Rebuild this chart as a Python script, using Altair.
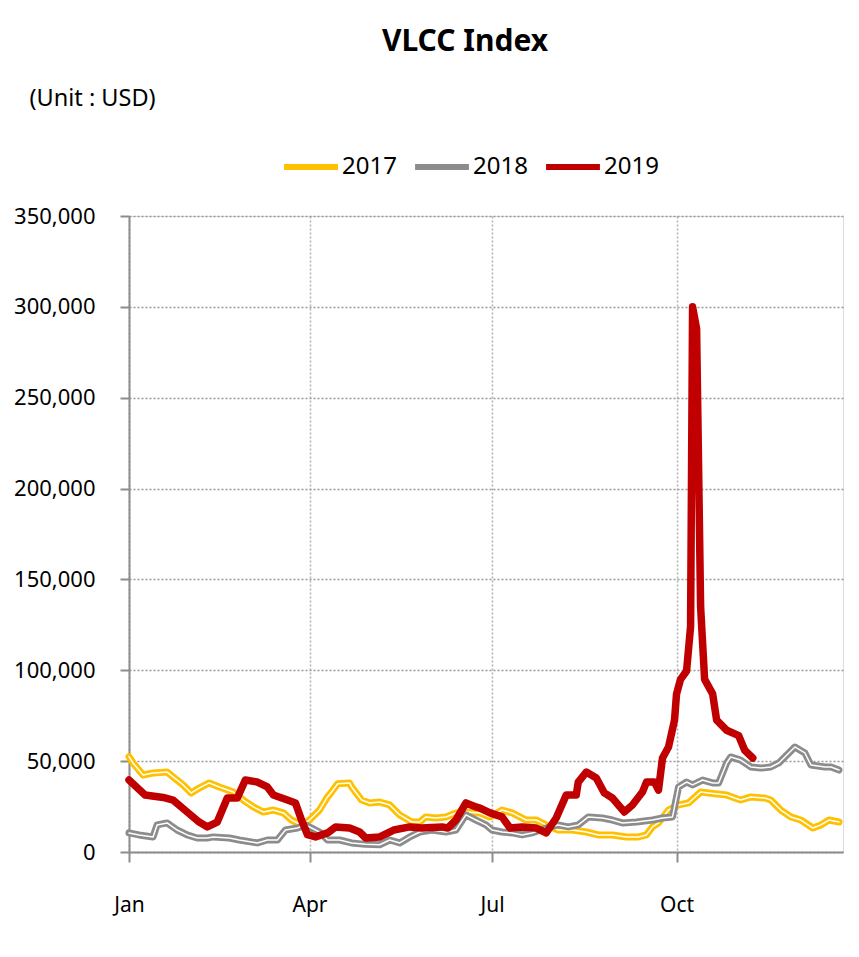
import altair as alt
import pandas as pd

# ---- data (day of year, USD) ----
days_2017 = [0, 2, 7, 12, 19, 22, 27, 31, 35, 40, 45, 52, 57, 62, 67, 72, 77, 81, 86, 90,
             95, 99, 101, 104, 110, 111, 116, 120, 125, 130, 135, 141, 145, 148, 153, 158,
             163, 168, 175, 180, 186, 191, 198, 203, 208, 214, 221, 228, 234, 241, 248, 254,
             258, 261, 264, 269, 274, 279, 285, 289, 298, 302, 305, 310, 317, 320, 325, 330,
             335, 341, 345, 349, 354]
vals_2017 = [52500, 49000, 42400, 43500, 44000, 41300, 36900, 32500, 35200, 38000, 35800,
             33000, 28600, 24800, 22000, 23100, 21500, 17600, 14900, 17600, 23100, 30300,
             33000, 37500, 38000, 35800, 28600, 27000, 27500, 25900, 20400, 16500, 16500,
             19300, 18700, 19300, 21500, 22000, 21500, 19300, 23100, 21500, 17600, 17600,
             14900, 12100, 12100, 11000, 9400, 9400, 8300, 8300, 9400, 13800, 16000, 23100,
             25900, 27000, 33000, 32500, 31400, 29700, 28600, 30300, 29700, 28600, 23100,
             19300, 17600, 13200, 14900, 17600, 16500]

days_2018 = [0, 5, 12, 14, 19, 24, 29, 34, 39, 42, 50, 55, 64, 69, 74, 78, 84, 88, 95, 99,
             105, 111, 118, 125, 130, 135, 140, 145, 151, 158, 163, 168, 173, 178, 181, 186,
             191, 196, 201, 208, 214, 219, 224, 229, 236, 241, 246, 253, 261, 266, 271, 274,
             278, 281, 286, 291, 294, 298, 300, 305, 310, 315, 320, 324, 327, 332, 337, 340,
             347, 350, 354]
vals_2018 = [10500, 9400, 8300, 14900, 16000, 12100, 9400, 7700, 7700, 8300, 7700, 6600,
             5000, 6600, 6600, 12100, 13200, 14900, 11000, 6600, 6600, 5000, 4200, 4000, 6600,
             5000, 8300, 11000, 12100, 11000, 12100, 20400, 17600, 14900, 12100, 11000, 10500,
             9400, 10500, 13200, 14900, 13800, 14900, 19300, 18700, 17600, 16000, 16500, 17600,
             18700, 19300, 35800, 38500, 36900, 39600, 38000, 38000, 49000, 52300, 50600,
             46800, 46200, 46800, 49000, 52300, 57800, 54500, 47900, 46800, 46800, 45100]

days_2019 = [0, 8, 17, 22, 29, 35, 39, 44, 49, 54, 58, 64, 69, 72, 79, 83, 86, 89, 93, 99,
             103, 110, 115, 118, 125, 132, 140, 146, 156, 159, 163, 168, 173, 175, 180, 186,
             190, 196, 203, 208, 213, 218, 223, 224, 228, 233, 237, 241, 247, 251, 256, 258,
             262, 264, 266, 269, 272, 273, 275, 278, 280, 281, 283, 285, 287, 291, 293, 298,
             304, 307, 311]
vals_2019 = [39600, 31400, 30000, 28600, 22000, 16500, 13800, 16500, 29700, 29700, 39600,
             38500, 35800, 31400, 28600, 27000, 17600, 9500, 8300, 10500, 13800, 13200, 11000,
             7700, 8300, 12100, 13800, 13200, 13800, 13200, 17600, 27000, 24800, 24200, 21500,
             19300, 13200, 13800, 13200, 10500, 18700, 31400, 31400, 38500, 44000, 40700,
             32500, 29700, 22000, 25900, 33000, 38500, 38500, 34100, 51700, 57800, 72600,
             87000, 95000, 99600, 124000, 300000, 288000, 135000, 95000, 87000, 72600, 67000,
             64000, 56000, 51700]

years = ["2017", "2018", "2019"]
colors = ["#FFC000", "#8C8C8C", "#C00000"]
tick_days = [0, 90, 181, 273]
tick_labels = ["Jan", "Apr", "Jul", "Oct"]
y_ticks = [0, 50000, 100000, 150000, 200000, 250000, 300000, 350000]

df = pd.concat([
    pd.DataFrame({"day": days_2017, "value": vals_2017, "year": "2017"}),
    pd.DataFrame({"day": days_2018, "value": vals_2018, "year": "2018"}),
    pd.DataFrame({"day": days_2019, "value": vals_2019, "year": "2019"}),
], ignore_index=True)

FONT = "Noto Sans"

label_expr = " : ".join(
    f"datum.value == {d} ? '{l}'" for d, l in zip(tick_days, tick_labels)
) + " : ''"

x_enc = alt.X(
    "day:Q",
    scale=alt.Scale(domain=[0, 356], nice=False, zero=False),
    axis=alt.Axis(values=tick_days, labelExpr=label_expr, title=None, grid=True,
                  gridColor="#B0B0B0", gridDash=[2, 2], gridWidth=1.5,
                  domainColor="#8C8C8C", domainWidth=2, tickColor="#8C8C8C",
                  tickWidth=2, tickSize=10, labelPadding=32, labelFontSize=21,
                  labelColor="black", labelFont=FONT, labelFlush=False),
)
y_enc = alt.Y(
    "value:Q",
    scale=alt.Scale(domain=[0, 350000], nice=False),
    axis=alt.Axis(values=y_ticks, format=",.0f", title="(Unit : USD)",
                  titleAngle=0, titleAlign="left", titleBaseline="middle",
                  titleX=-100, titleY=-118, titleFontSize=23.5, titleFontWeight="normal",
                  titleFont=FONT, titleColor="black",
                  grid=True, gridColor="#999999", gridDash=[2, 2], gridWidth=1.5,
                  domainColor="#8C8C8C", domainWidth=2, tickColor="#8C8C8C",
                  tickWidth=2, tickSize=9, labelPadding=25, labelFontSize=22,
                  labelColor="black", labelFont=FONT),
)

color_enc = alt.Color(
    "year:N",
    scale=alt.Scale(domain=years, range=colors),
    legend=alt.Legend(title=None, orient="none", direction="horizontal",
                      legendX=152, legendY=-79, symbolType="stroke",
                      symbolStrokeWidth=6, symbolSize=2900, labelFontSize=24,
                      labelFont=FONT, labelColor="black", labelOffset=1,
                      columnPadding=6),
)

base = alt.Chart(df)
layers = []
for yr in years:
    w = 7.5 if yr == "2019" else 7
    layers.append(
        base.transform_filter(alt.datum.year == yr)
        .mark_line(strokeWidth=w, strokeJoin="round", strokeCap="round")
        .encode(x=x_enc, y=y_enc, color=color_enc)
    )
    if yr != "2019":
        layers.append(
            base.transform_filter(alt.datum.year == yr)
            .mark_line(strokeWidth=1.5, color="white", strokeJoin="round", strokeCap="round")
            .encode(x=x_enc, y=y_enc)
        )

chart = alt.layer(*layers).properties(
    width=714, height=636,
    title=alt.TitleParams("VLCC Index", fontSize=30, fontWeight="bold", font=FONT,
                          color="black", anchor="middle", frame="group", dx=-21, dy=-25),
    autosize=alt.AutoSizeParams(type="none"),
    padding={"left": 129, "top": 216, "right": 16, "bottom": 105},
).configure_view(stroke=None).configure(background="white")

chart.save("out.html", embed_options={"renderer": "svg", "actions": False})
